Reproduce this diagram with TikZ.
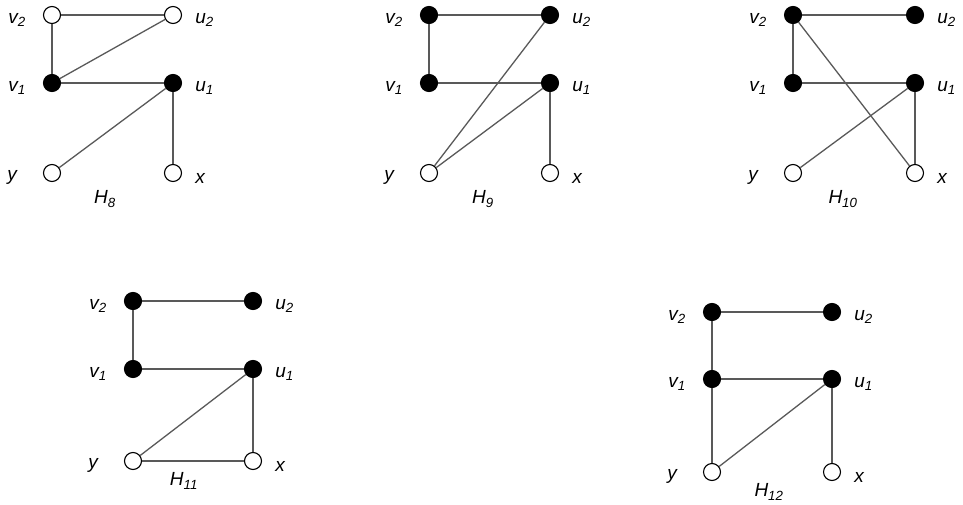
\documentclass[tikz,border=0pt]{standalone}
\usepackage{fontspec}
\setmainfont{Liberation Sans}
\usetikzlibrary{positioning}

\begin{document}
\begin{tikzpicture}[
  x=1pt, y=-1pt,
  vtx/.style={circle, draw, line width=1.1pt, minimum size=17pt, inner sep=0pt, fill=white},
  blk/.style={vtx, fill=black},
  edge/.style={line width=1.3pt, draw=black!65},
  lbl/.style={font=\fontsize{19}{22}\selectfont\itshape, inner sep=0pt},
  every label/.style={lbl, yshift=-5pt}, label distance=13pt,
  lft/.style={label={[label distance=17pt]left:#1}},
  rgt/.style={label={right:#1}},
  ylab/.style={label={[label distance=26pt, yshift=1pt]left:y}}
]
\useasboundingbox (0,0) rectangle (963,505);

% H8
\begin{scope}[shift={(52,15)}]
\node[vtx, lft=v\textsubscript{2}] (h8v2) at (0,0) {};
\node[vtx, rgt=u\textsubscript{2}] (h8u2) at (121,0) {};
\node[blk, lft=v\textsubscript{1}] (h8v1) at (0,68) {};
\node[blk, rgt=u\textsubscript{1}] (h8u1) at (121,68) {};
\node[vtx, ylab] (h8y) at (0,158) {};
\node[vtx, rgt=x] (h8x) at (121,158) {};
\node[lbl] (h8) at (53,184) {H\textsubscript{8}};
\draw[edge] (h8v2) -- (h8u2);
\draw[edge] (h8v2) -- (h8v1);
\draw[edge] (h8v1) -- (h8u2);
\draw[edge] (h8v1) -- (h8u1);
\draw[edge] (h8u1) -- (h8y);
\draw[edge] (h8u1) -- (h8x);
\end{scope}

% H9
\begin{scope}[shift={(429,15)}]
\node[blk, lft=v\textsubscript{2}] (h9v2) at (0,0) {};
\node[blk, rgt=u\textsubscript{2}] (h9u2) at (121,0) {};
\node[blk, lft=v\textsubscript{1}] (h9v1) at (0,68) {};
\node[blk, rgt=u\textsubscript{1}] (h9u1) at (121,68) {};
\node[vtx, ylab] (h9y) at (0,158) {};
\node[vtx, rgt=x] (h9x) at (121,158) {};
\node[lbl] (h9) at (54,184) {H\textsubscript{9}};
\draw[edge] (h9v2) -- (h9u2);
\draw[edge] (h9v2) -- (h9v1);
\draw[edge] (h9v1) -- (h9u1);
\draw[edge] (h9y) -- (h9u2);
\draw[edge] (h9y) -- (h9u1);
\draw[edge] (h9u1) -- (h9x);
\end{scope}

% H10
\begin{scope}[shift={(793,15)}]
\node[blk, lft=v\textsubscript{2}] (h10v2) at (0,0) {};
\node[blk, rgt=u\textsubscript{2}] (h10u2) at (122,0) {};
\node[blk, lft=v\textsubscript{1}] (h10v1) at (0,68) {};
\node[blk, rgt=u\textsubscript{1}] (h10u1) at (122,68) {};
\node[vtx, ylab] (h10y) at (0,158) {};
\node[vtx, rgt=x] (h10x) at (122,158) {};
\node[lbl] (h10) at (50,184) {H\textsubscript{10}};
\draw[edge] (h10v2) -- (h10u2);
\draw[edge] (h10v2) -- (h10v1);
\draw[edge] (h10v2) -- (h10x);
\draw[edge] (h10v1) -- (h10u1);
\draw[edge] (h10y) -- (h10u1);
\draw[edge] (h10u1) -- (h10x);
\end{scope}

% H11
\begin{scope}[shift={(133,301)}]
\node[blk, lft=v\textsubscript{2}] (h11v2) at (0,0) {};
\node[blk, rgt=u\textsubscript{2}] (h11u2) at (120,0) {};
\node[blk, lft=v\textsubscript{1}] (h11v1) at (0,68) {};
\node[blk, rgt=u\textsubscript{1}] (h11u1) at (120,68) {};
\node[vtx, ylab] (h11y) at (0,160) {};
\node[vtx, rgt=x] (h11x) at (120,160) {};
\node[lbl] (h11) at (51,180) {H\textsubscript{11}};
\draw[edge] (h11v2) -- (h11u2);
\draw[edge] (h11v2) -- (h11v1);
\draw[edge] (h11v1) -- (h11u1);
\draw[edge] (h11y) -- (h11u1);
\draw[edge] (h11y) -- (h11x);
\draw[edge] (h11u1) -- (h11x);
\end{scope}

% H12
\begin{scope}[shift={(712,312)}]
\node[blk, lft=v\textsubscript{2}] (h12v2) at (0,0) {};
\node[blk, rgt=u\textsubscript{2}] (h12u2) at (120,0) {};
\node[blk, lft=v\textsubscript{1}] (h12v1) at (0,67) {};
\node[blk, rgt=u\textsubscript{1}] (h12u1) at (120,67) {};
\node[vtx, ylab] (h12y) at (0,160) {};
\node[vtx, rgt=x] (h12x) at (120,160) {};
\node[lbl] (h12) at (57,180) {H\textsubscript{12}};
\draw[edge] (h12v2) -- (h12u2);
\draw[edge] (h12v2) -- (h12v1);
\draw[edge] (h12v1) -- (h12y);
\draw[edge] (h12v1) -- (h12u1);
\draw[edge] (h12y) -- (h12u1);
\draw[edge] (h12u1) -- (h12x);
\end{scope}
\end{tikzpicture}
\end{document}
